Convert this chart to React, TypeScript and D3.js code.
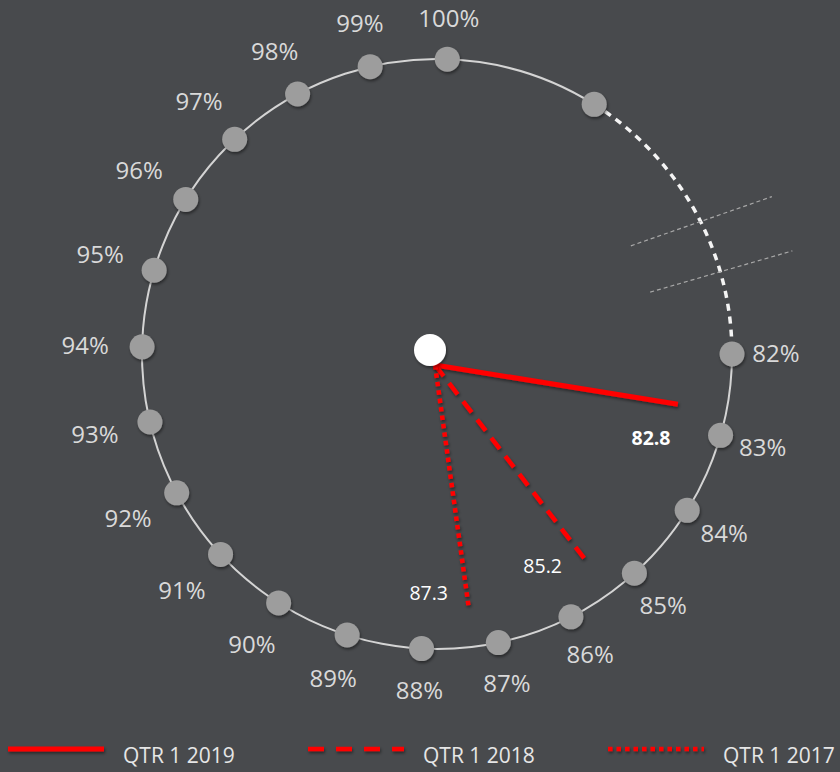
import { useEffect, useRef } from 'react';
import * as d3 from 'd3';

// ring ticks (percent)
const tickValues = [82, 83, 84, 85, 86, 87, 88, 89, 90, 91, 92, 93, 94, 95, 96, 97, 98, 99, 100];
const tickLabels = tickValues.map((v) => `${v}%`);
// the unlabeled dot where the axis break begins
const breakValue = 102;

// series
const seriesNames = ['QTR 1 2019', 'QTR 1 2018', 'QTR 1 2017'];
const seriesValues = [82.8, 85.2, 87.3];

const WIDTH = 840;
const HEIGHT = 772;

export default function App() {
  const svgRef = useRef<SVGSVGElement>(null);

  useEffect(() => {
    if (!svgRef.current) return;
    const svg = d3.select(svgRef.current);
    svg.selectAll('*').remove();

    const cx = 437;
    const cy = 354;
    const R = 295;
    const font = '"Open Sans", "Noto Sans", sans-serif';
    const rad = (deg: number) => (deg * Math.PI) / 180;

    // angle in degrees, clockwise from 12 o'clock
    const ringAngle = d3.scaleLinear()
      .domain([82, 85, 88, 94, 100])
      .range([-270, -222, -177, -88.6, 2]);
    // the needles are drawn from the hub, not the ring centre
    const needleAngle = d3.scaleLinear().domain([82, 85, 88]).range([84.5, 139.5, 182]);

    const polar = (ox: number, oy: number, r: number, deg: number) => [
      ox + r * Math.sin(rad(deg)),
      oy - r * Math.cos(rad(deg)),
    ];

    const defs = svg.append('defs');
    const shadow = defs.append('filter').attr('id', 'shadow')
      .attr('filterUnits', 'userSpaceOnUse')
      .attr('x', -WIDTH).attr('y', -HEIGHT).attr('width', WIDTH * 3).attr('height', HEIGHT * 3);
    shadow.append('feDropShadow').attr('dx', 1).attr('dy', 2).attr('stdDeviation', 1.5).attr('flood-color', '#000').attr('flood-opacity', 0.45);

    svg.append('rect').attr('width', WIDTH).attr('height', HEIGHT).attr('fill', '#484a4d');

    const startA = ringAngle(82);
    const breakA = ringAngle(100) + (ringAngle(100) - ringAngle(99)) * (breakValue - 100);

    // solid ring: from 82% around to the break dot
    const solid = d3.path();
    solid.arc(cx, cy, R, rad(startA - 90), rad(breakA - 90), false);
    svg.append('path').attr('d', solid.toString()).attr('fill', 'none').attr('stroke', '#d4d4d4').attr('stroke-width', 2);

    // dashed break arc
    const dashed = d3.path();
    dashed.arc(cx, cy, R, rad(breakA - 90), rad(startA + 360 - 90), false);
    svg.append('path').attr('d', dashed.toString()).attr('fill', 'none').attr('stroke', '#f4f4f4').attr('stroke-width', 3.5).attr('stroke-dasharray', '7 6');

    // break marks
    const gap = startA + 360 - breakA;
    [
      { t: 0.53, tilt: 4 },
      { t: 0.72, tilt: 0 },
    ].forEach(({ t, tilt }) => {
      const a = breakA + gap * t;
      const [x1, y1] = polar(cx, cy, 222, a - tilt / 2);
      const [x2, y2] = polar(cx, cy, 370, a + tilt / 2);
      svg.append('line').attr('x1', x1).attr('y1', y1).attr('x2', x2).attr('y2', y2)
        .attr('stroke', '#a8a8a8').attr('stroke-width', 1.2).attr('stroke-dasharray', '4 3');
    });

    const dotAngle = (d: number) => (d === breakValue ? breakA : ringAngle(d));

    // dots
    svg.append('g').selectAll('circle').data([...tickValues, breakValue]).join('circle')
      .attr('cx', (d) => polar(cx, cy, R, dotAngle(d))[0])
      .attr('cy', (d) => polar(cx, cy, R, dotAngle(d))[1])
      .attr('r', 12.5)
      .attr('fill', '#9d9d9d')
      .attr('filter', 'url(#shadow)');

    // tick labels
    const labelR = (d: number) => {
      const s = Math.sin(rad(ringAngle(d)));
      return R + 41 + (s < 0 ? 16 * -s : 3 * s);
    };
    svg.append('g').selectAll('text').data(tickValues).join('text')
      .attr('x', (d) => polar(cx, cy, labelR(d), ringAngle(d))[0])
      .attr('y', (d) => polar(cx, cy, labelR(d), ringAngle(d))[1])
      .attr('text-anchor', 'middle')
      .attr('dy', '0.35em')
      .attr('font-family', font)
      .attr('font-size', 24)
      .attr('fill', '#d9d9d9')
      .text((d, i) => tickLabels[i]);

    // needles
    const ox = 435;
    const oy = 365;
    const dashes = [null, '14 9', '4.5 4'];
    const widths = [5, 4.5, 4.5];
    seriesValues.forEach((v, i) => {
      const [x2, y2] = polar(ox, oy, 246, needleAngle(v));
      svg.append('line').attr('x1', ox).attr('y1', oy).attr('x2', x2).attr('y2', y2)
        .attr('stroke', '#ff0000').attr('stroke-width', widths[i])
        .attr('stroke-dasharray', dashes[i])
        .attr('filter', 'url(#shadow)');
      const [lx, ly] = polar(ox, oy, 228, needleAngle(v) + 9.5);
      svg.append('text').attr('x', lx).attr('y', ly).attr('dy', '0.35em')
        .attr('text-anchor', 'middle').attr('font-family', font)
        .attr('font-size', 19.5).attr('font-weight', i === 0 ? 700 : 400)
        .attr('fill', '#ffffff').text(d3.format('.1f')(v));
    });

    // center hub
    svg.append('circle').attr('cx', 430).attr('cy', 350).attr('r', 16).attr('fill', '#ffffff').attr('filter', 'url(#shadow)');

    // legend
    const legendX = d3.scalePoint<string>().domain(seriesNames).range([8, 608]);
    const lg = svg.append('g').selectAll('g').data(seriesNames).join('g')
      .attr('transform', (d) => `translate(${legendX(d)},749)`);
    lg.append('line').attr('x1', 0).attr('x2', 96).attr('y1', 0).attr('y2', 0)
      .attr('stroke', '#ff0000').attr('stroke-width', (d, i) => widths[i])
      .attr('stroke-dasharray', (d, i) => (i === 1 ? '16 12' : dashes[i]))
      .attr('filter', 'url(#shadow)');
    lg.append('text').attr('x', 115).attr('y', 14)
      .attr('font-family', font).attr('font-size', 21).attr('fill', '#e6e6e6')
      .text((d) => d);
  }, []);

  return (
    <div style={{ position: 'absolute', left: 0, top: 0 }}>
      <svg ref={svgRef} width={WIDTH} height={HEIGHT} style={{ display: 'block' }} />
    </div>
  );
}
